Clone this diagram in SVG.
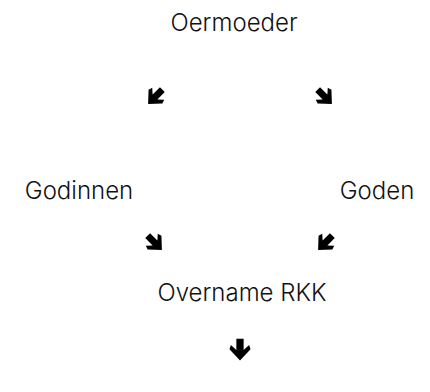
<svg xmlns="http://www.w3.org/2000/svg" width="430" height="392" viewBox="0 0 430 392">
<style>
.lbl{font-family:Inter,"Liberation Sans",Arial,sans-serif;font-weight:300;font-size:24px;fill:#111;text-anchor:middle}
.arr{fill:#000}
</style>
<defs>
<path id="ad" d="M-2.6,-8 L2.6,-8 L2.6,0 L6.5,-3.5 L7.5,-0.5 L0,7.5 L-7.5,-0.5 L-6.5,-3.5 L-2.6,0 Z"/>
</defs>
<rect width="430" height="392" fill="#fff"/>
<g id="connectors" class="arr">
<use href="#ad" transform="translate(155,97) rotate(45) scale(1.3)"/>
<use href="#ad" transform="translate(325,97) rotate(-45) scale(1.3)"/>
<use href="#ad" transform="translate(155,243) rotate(-45) scale(1.3)"/>
<use href="#ad" transform="translate(325,243) rotate(45) scale(1.3)"/>
<use href="#ad" transform="translate(240,350) scale(1.4)"/>
</g>
<g id="oermoeder"><text class="lbl" x="234" y="31">Oermoeder</text></g>
<g id="godinnen"><text class="lbl" x="79" y="199">Godinnen</text></g>
<g id="goden"><text class="lbl" x="377" y="199">Goden</text></g>
<g id="overname"><text class="lbl" x="242" y="301">Overname RKK</text></g>
</svg>
